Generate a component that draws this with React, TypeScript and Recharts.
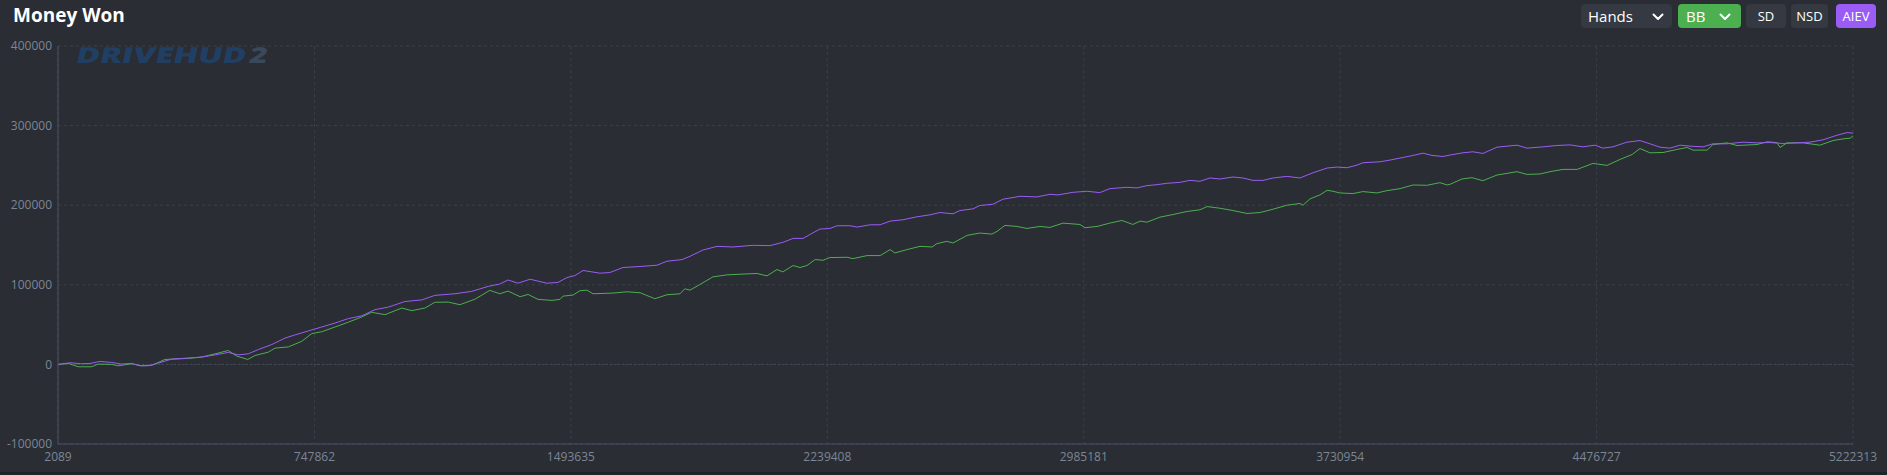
import React from 'react'
import { LineChart, Line, XAxis, YAxis, CartesianGrid, ReferenceLine } from 'recharts'

const xTicks = [2089, 747862, 1493635, 2239408, 2985181, 3730954, 4476727, 5222313]
const yTicks = [-100000, 0, 100000, 200000, 300000, 400000]

// AIEV (purple)
const aievHands = [
  2089, 37000, 71000, 95000, 124000, 158000, 187000, 216000, 240000, 265000, 294000, 333000,
  381000, 420000, 459000, 497000, 526000, 555000, 585000, 624000, 662000, 691000, 730000, 769000,
  808000, 846000, 885000, 924000, 963000, 1011000, 1060000, 1098000, 1157000, 1205000, 1253000,
  1287000, 1311000, 1340000, 1375000, 1424000, 1456000, 1482000, 1506000, 1529000, 1578000,
  1607000, 1645000, 1695000, 1744000, 1773000, 1817000, 1840000, 1878000, 1919000, 1965000,
  2023000, 2073000, 2110000, 2140000, 2169000, 2198000, 2218000, 2247000, 2268000, 2305000,
  2326000, 2364000, 2393000, 2422000, 2459000, 2500000, 2538000, 2567000, 2605000, 2625000,
  2663000, 2683000, 2721000, 2750000, 2800000, 2849000, 2887000, 2910000, 2954000, 2995000,
  3032000, 3061000, 3111000, 3140000, 3169000, 3198000, 3227000, 3265000, 3294000, 3323000,
  3352000, 3381000, 3419000, 3448000, 3477000, 3507000, 3536000, 3576000, 3614000, 3652000,
  3693000, 3722000, 3751000, 3780000, 3797000, 3847000, 3876000, 3914000, 3943000, 3972000,
  3998000, 4030000, 4050000, 4088000, 4117000, 4146000, 4187000, 4245000, 4274000, 4321000,
  4361000, 4399000, 4437000, 4472000, 4495000, 4524000, 4565000, 4603000, 4632000, 4661000,
  4690000, 4719000, 4748000, 4786000, 4815000, 4856000, 4902000, 4943000, 4981000, 5019000,
  5059000, 5097000, 5135000, 5176000, 5205000, 5222313,
]
const aievMoney = [
  0, 2000, 800, 1200, 3700, 2500, 400, 1200, -1700, -1700, 1700, 6700,
  8000, 9200, 12000, 15000, 12000, 13300, 18700, 25000, 33000, 37000, 42000, 47000,
  52000, 57500, 61000, 68800, 72000, 79000, 81000, 86700, 88800, 91700, 98000,
  101000, 106000, 102000, 107000, 102000, 103000, 109000, 111700, 118000, 114600,
  115400, 121700, 123000, 124600, 129600, 131700, 135800, 143700, 148300, 147500,
  149600, 149200, 153300, 158300, 158300, 165400, 170000, 170800, 174200, 174200,
  172500, 175400, 175400, 180000, 181700, 185400, 187900, 190800, 189200, 193300,
  195400, 199600, 201200, 207500, 211200, 210400, 213700, 212900, 216200, 217500,
  215800, 220800, 222500, 221700, 224600, 225800, 227500, 228700, 231200, 230000,
  234200, 232900, 235400, 234200, 231200, 231200, 234200, 236200, 234200, 240800,
  246700, 247900, 247100, 250400, 253300, 254600, 256700, 260000, 262500, 265400,
  262500, 261200, 263000, 265800, 267100, 265000, 272900, 275400, 271700, 273300,
  275000, 275800, 273300, 275400, 271700, 273300, 279200, 281200, 277100, 272900,
  271700, 275400, 274200, 273300, 277100, 277100, 279200, 278300, 278700, 277500,
  278300, 279200, 282100, 287900, 291200, 290500,
]

// BB (green)
const bbHands = [
  2089, 32000, 61000, 100000, 119000, 158000, 177000, 216000, 245000, 275000, 313000, 381000,
  420000, 459000, 497000, 522000, 554000, 575000, 614000, 633000, 672000, 711000, 740000, 769000,
  808000, 846000, 885000, 914000, 953000, 1002000, 1031000, 1069000, 1098000, 1137000, 1171000,
  1215000, 1258000, 1287000, 1311000, 1346000, 1369000, 1398000, 1439000, 1462000, 1471000,
  1500000, 1520000, 1540000, 1558000, 1616000, 1657000, 1695000, 1738000, 1773000, 1811000,
  1825000, 1840000, 1869000, 1907000, 1948000, 1985000, 2035000, 2064000, 2093000, 2110000,
  2140000, 2160000, 2180000, 2204000, 2227000, 2247000, 2297000, 2314000, 2355000, 2393000,
  2422000, 2436000, 2471000, 2509000, 2544000, 2558000, 2587000, 2605000, 2646000, 2683000,
  2718000, 2733000, 2756000, 2791000, 2820000, 2858000, 2887000, 2925000, 2974000, 2989000,
  3024000, 3061000, 3096000, 3128000, 3149000, 3169000, 3207000, 3245000, 3285000, 3323000,
  3344000, 3381000, 3419000, 3460000, 3498000, 3536000, 3576000, 3614000, 3623000, 3643000,
  3672000, 3693000, 3710000, 3730000, 3768000, 3797000, 3838000, 3867000, 3905000, 3943000,
  3983000, 4021000, 4042000, 4050000, 4085000, 4114000, 4146000, 4187000, 4245000, 4274000,
  4312000, 4341000, 4379000, 4420000, 4466000, 4507000, 4545000, 4580000, 4603000, 4632000,
  4670000, 4710000, 4740000, 4757000, 4798000, 4815000, 4856000, 4885000, 4943000, 4972000,
  5001000, 5010000, 5030000, 5077000, 5126000, 5164000, 5193000, 5214000, 5222313,
]
const bbMoney = [
  0, 1200, -3000, -3000, 400, 0, -1700, 800, -1700, -1200, 6200, 7500,
  9200, 13300, 17500, 10400, 6200, 11200, 15400, 20400, 22000, 29000, 38700, 41000,
  47000, 53000, 59500, 65400, 62500, 70800, 67500, 70800, 78000, 78300, 75000,
  82000, 93000, 88700, 92100, 85000, 87900, 81700, 80400, 81700, 85800,
  87100, 92500, 93300, 88700, 89600, 91200, 90000, 82500, 87500, 88700,
  95000, 93300, 100400, 110000, 112500, 113300, 114200, 111200, 119200, 116200,
  124200, 121700, 124200, 131700, 130800, 134200, 134600, 132900, 136700, 136700,
  144200, 140000, 144200, 148300, 147500, 151700, 154600, 152500, 162100, 165000,
  163700, 167100, 174600, 173300, 170800, 173300, 172100, 177500, 175800, 171700,
  173300, 177500, 180800, 175800, 180000, 178700, 185000, 188300, 192100, 194200,
  198300, 196200, 193300, 189600, 190800, 195000, 200000, 202100, 200000, 207900,
  212900, 218700, 217500, 215400, 214600, 217100, 215400, 218300, 220800, 225400,
  225000, 228300, 225400, 226200, 232900, 234600, 230800, 237900, 242100, 238700,
  239200, 242100, 245000, 245000, 252500, 250000, 257500, 263700, 271200, 265800,
  266200, 270000, 272500, 269200, 269200, 276200, 278300, 275000, 276200, 279600,
  278700, 272500, 278300, 278300, 275400, 281200, 283300, 284200, 287100,
]

const aievData = aievHands.map((h, i) => ({ hands: h, money: aievMoney[i] }))
const bbData = bbHands.map((h, i) => ({ hands: h, money: bbMoney[i] }))

const font = '"Open Sans", "Noto Sans", sans-serif'
const tick = { fill: '#7b8696', fontSize: 12, fontFamily: font }

function Chevron({ x }: { x: number }) {
  return (
    <svg width={12} height={8} style={{ position: 'absolute', left: x, top: 9 }}>
      <polyline points="1.5,1.5 6,6 10.5,1.5" fill="none" stroke="#fff" strokeWidth={2} strokeLinecap="round" strokeLinejoin="round" />
    </svg>
  )
}

function Btn({ left, width, bg, label, size }: { left: number; width: number; bg: string; label: string; size: number }) {
  return (
    <div
      style={{
        position: 'absolute', left, top: 4, width, height: 24, background: bg, borderRadius: 4,
        color: '#fff', fontSize: size, fontFamily: font, lineHeight: '24px', textAlign: 'center',
      }}
    >
      {label}
    </div>
  )
}

export default function App() {
  return (
    <div style={{ position: 'absolute', left: 0, top: 0, width: 1887, height: 475, background: '#2a2d33', overflow: 'hidden' }}>
      <div style={{ position: 'absolute', left: 13, top: 3, color: '#fff', fontFamily: font, fontWeight: 700, fontSize: 19, lineHeight: '24px' }}>
        Money Won
      </div>

      <div style={{ position: 'absolute', left: 1581, top: 4, width: 91, height: 24, background: '#353941', borderRadius: 4 }}>
        <span style={{ position: 'absolute', left: 7, top: 0, color: '#fff', fontFamily: font, fontSize: 15, lineHeight: '24px' }}>Hands</span>
        <Chevron x={71} />
      </div>
      <div style={{ position: 'absolute', left: 1678, top: 4, width: 63, height: 24, background: '#4caf50', borderRadius: 4 }}>
        <span style={{ position: 'absolute', left: 8, top: 0, color: '#fff', fontFamily: font, fontSize: 15, lineHeight: '24px' }}>BB</span>
        <Chevron x={41} />
      </div>
      <Btn left={1746} width={40} bg="#353941" label="SD" size={13} />
      <Btn left={1791} width={37} bg="#353941" label="NSD" size={13} />
      <Btn left={1836} width={40} bg="#9b5cf6" label="AIEV" size={13} />

      <svg width={300} height={50} style={{ position: 'absolute', left: 50, top: 30 }}>
        <g transform="skewX(-12)">
          <text x={32} y={33} textLength={170} lengthAdjust="spacingAndGlyphs" fill="#213f63" fontFamily={font} fontWeight={800} fontSize={22}>
            DRIVEHUD
          </text>
          <text x={205} y={33} textLength={18} lengthAdjust="spacingAndGlyphs" fill="#39485a" fontFamily={font} fontWeight={800} fontSize={22}>2</text>
        </g>
      </svg>

      <div style={{ position: 'absolute', left: 0, top: 0 }}>
        <LineChart width={1887} height={475} margin={{ top: 46, right: 34, bottom: 0, left: 0 }}>
          <CartesianGrid stroke="#3b4048" strokeDasharray="3 3" />
          <XAxis
            type="number"
            dataKey="hands"
            domain={[2089, 5222313]}
            ticks={xTicks}
            allowDataOverflow
            height={31}
            tick={tick}
            tickLine={false}
            stroke="#4a5164"
            interval={0}
          />
          <YAxis
            type="number"
            domain={[-100000, 400000]}
            ticks={yTicks}
            width={58}
            tick={tick}
            tickLine={false}
            tickSize={4}
            stroke="#4a5164"
            interval={0}
          />
          <ReferenceLine y={0} stroke="#434a57" strokeDasharray="2 2" />
          <Line data={bbData} dataKey="money" stroke="#4caf50" strokeWidth={1} dot={false} isAnimationActive={false} />
          <Line data={aievData} dataKey="money" stroke="#9b5cf6" strokeWidth={1} dot={false} isAnimationActive={false} />
        </LineChart>
      </div>
      <div style={{ position: 'absolute', left: 0, top: 472, width: 1887, height: 3, background: '#1f2226' }} />
    </div>
  )
}
